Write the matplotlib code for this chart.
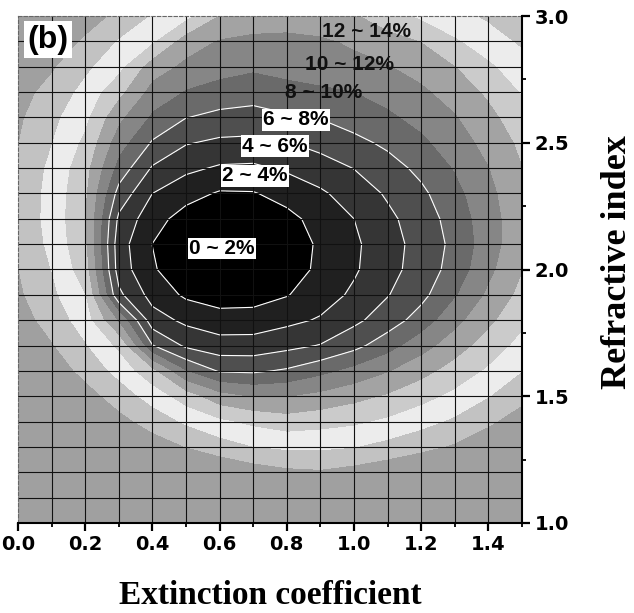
import numpy as np
import matplotlib
matplotlib.use("Agg")
import matplotlib.pyplot as plt

# ---- data ----
k_values = [0.0, 0.1, 0.2, 0.3, 0.4, 0.5, 0.6, 0.7, 0.8, 0.9, 1.0, 1.1, 1.2, 1.3, 1.4, 1.5]
n_values = [1.0, 1.1, 1.2, 1.3, 1.4, 1.5, 1.6, 1.7, 1.8, 1.9, 2.0,
            2.1, 2.2, 2.3, 2.4, 2.5, 2.6, 2.7, 2.8, 2.9, 3.0]
# reflectance (%) ; one row per refractive index value (bottom -> top)
reflectance = [
    [27.5, 26.8, 26.1, 25.4, 24.8, 24.2, 23.6, 23.1, 22.8, 22.7, 23.0, 23.6, 24.2, 24.7, 25.3, 25.9],
    [26.5, 25.7, 25.0, 24.3, 23.7, 23.0, 22.4, 21.9, 21.5, 21.4, 21.8, 22.4, 23.0, 23.5, 24.0, 24.7],
    [26.0, 25.2, 24.1, 23.5, 22.9, 22.3, 21.7, 21.0, 20.4, 20.2, 20.7, 21.3, 21.9, 22.4, 23.0, 23.5],
    [25.5, 24.3, 23.2, 22.1, 21.0, 19.9, 18.9, 17.95, 17.6, 17.6, 17.85, 18.6, 19.4, 20.2, 21.25, 22.3],
    [24.5, 23.4, 22.0, 20.6, 19.1, 17.6, 16.3, 15.5, 14.85, 15.2, 15.6, 16.3, 17.25, 18.3, 19.6, 20.9],
    [23.5, 22.3, 20.8, 19.0, 17.1, 14.85, 12.65, 11.75, 11.85, 12.45, 13.3, 14.15, 15.25, 16.45, 17.85, 19.4],
    [22.5, 21.2, 19.3, 17.3, 14.4, 9.95, 7.8, 7.7, 8.25, 9.35, 10.5, 11.8, 13.25, 14.75, 16.25, 17.9],
    [21.9, 20.1, 18.1, 15.5, 8.1, 5.65, 4.85, 4.85, 5.45, 6.1, 7.4, 9.1, 11.1, 13.0, 14.85, 16.6],
    [20.8, 19.2, 16.9, 11.6, 4.9, 3.55, 2.83, 2.9, 3.5, 4.2, 5.55, 7.0, 8.85, 11.3, 13.5, 15.5],
    [20.3, 18.4, 15.95, 6.45, 3.25, 1.67, 1.06, 1.13, 1.89, 3.1, 4.35, 5.9, 7.45, 9.75, 12.3, 14.55],
    [20.0, 17.9, 14.8, 5.1, 2.2, 0.83, 0.22, 0.3, 1.06, 2.4, 3.75, 5.3, 6.9, 8.75, 11.45, 13.85],
    [19.6, 17.45, 14.2, 4.9, 1.98, 0.69, 0.08, 0.16, 0.92, 2.3, 3.65, 5.2, 6.75, 8.5, 11.0, 13.4],
    [19.4, 17.25, 14.0, 5.6, 2.75, 1.22, 0.61, 0.68, 1.45, 2.7, 4.0, 5.55, 7.0, 8.8, 11.1, 13.3],
    [19.4, 17.3, 14.2, 7.3, 4.0, 2.7, 1.8, 1.87, 2.7, 3.7, 4.9, 6.25, 7.6, 9.35, 11.4, 13.5],
    [19.6, 17.5, 14.65, 9.2, 5.8, 4.45, 3.75, 3.65, 4.3, 5.1, 6.05, 7.2, 8.5, 10.1, 11.9, 13.9],
    [20.0, 18.0, 15.5, 10.8, 7.8, 6.15, 5.6, 5.5, 5.9, 6.65, 7.45, 8.4, 9.55, 11.0, 12.6, 14.4],
    [20.3, 18.5, 16.4, 12.4, 9.6, 8.05, 7.5, 7.3, 7.75, 8.1, 8.9, 9.6, 10.6, 11.8, 13.4, 15.1],
    [20.7, 19.3, 17.3, 14.5, 11.2, 9.8, 9.1, 8.8, 9.3, 9.6, 9.95, 10.7, 11.6, 12.8, 14.3, 16.1],
    [21.5, 20.2, 18.4, 16.5, 12.9, 11.5, 10.8, 10.3, 10.65, 11.05, 11.45, 11.85, 12.7, 13.9, 15.6, 17.1],
    [23.0, 21.4, 19.6, 17.8, 16.2, 12.9, 11.8, 11.4, 11.4, 11.7, 12.25, 13.1, 14.0, 15.7, 17.0, 18.3],
    [23.5, 22.0, 21.1, 19.4, 17.8, 16.5, 13.8, 13.3, 13.0, 13.1, 13.7, 15.1, 16.3, 17.3, 18.3, 19.8],
]
levels = [0, 2, 4, 6, 8, 10, 12, 14, 16, 18, 20, 30]
band_colors = ["#000000", "#202020", "#353535", "#4f4f4f", "#6a6a6a", "#868686",
               "#a3a3a3", "#cbcbcb", "#ececec", "#c2c2c2", "#a0a0a0"]

band_labels = ["0 ~ 2%", "2 ~ 4%", "4 ~ 6%", "6 ~ 8%", "8 ~ 10%", "10 ~ 12%", "12 ~ 14%"]
label_k = [0.607, 0.705, 0.765, 0.827, 0.91, 0.988, 1.036]
label_n = [2.083, 2.37, 2.486, 2.59, 2.70, 2.81, 2.94]
label_boxed = [True, True, True, True, False, False, False]

x_ticks = [0.0, 0.2, 0.4, 0.6, 0.8, 1.0, 1.2, 1.4]
y_ticks = [1.0, 1.5, 2.0, 2.5, 3.0]

# ---- figure ----
fig = plt.figure(figsize=(6.34, 6.13), dpi=100)
ax = fig.add_axes([18 / 634, 1 - 523 / 613, 504 / 634, 507 / 613])

K, N = np.meshgrid(k_values, n_values)
Z = np.array(reflectance)
ax.contourf(K, N, Z, levels=levels, colors=band_colors, zorder=1)
ax.contour(K, N, Z, levels=[2, 4, 6, 8], colors="white", linewidths=0.8, zorder=1.5)

ax.set_xlim(0, 1.5)
ax.set_ylim(1.0, 3.0)

# grid every 0.1
for gx in np.arange(0.1, 1.45, 0.1):
    ax.axvline(gx, color="#111111", lw=0.8, zorder=2.5)
for gy in np.arange(1.1, 2.95, 0.1):
    ax.axhline(gy, color="#111111", lw=0.8, zorder=2.5)

# spines
for s in ["left", "top"]:
    ax.spines[s].set_color("#666666")
    ax.spines[s].set_linewidth(0.8)
    ax.spines[s].set_linestyle((0, (3, 2)))
for s in ["right", "bottom"]:
    ax.spines[s].set_color("black")
    ax.spines[s].set_linewidth(1.5)
    ax.spines[s].set_zorder(4)

ax.yaxis.tick_right()
ax.set_xticks(x_ticks)
ax.set_xticklabels([f"{v:.1f}" for v in x_ticks])
ax.set_xticks(np.arange(0.1, 1.55, 0.2), minor=True)
ax.set_yticks(y_ticks)
ax.set_yticklabels([f"{v:.1f}" for v in y_ticks])
ax.set_yticks([1.25, 1.75, 2.25, 2.75], minor=True)
ax.tick_params(which="major", direction="out", length=5.5, width=1.6, labelsize=14, pad=3.5)
ax.tick_params(which="minor", direction="out", length=3, width=1.3)
ax.tick_params(axis="x", which="both", top=False)
ax.tick_params(axis="y", which="both", left=False, right=True)
for lab in ax.get_xticklabels() + ax.get_yticklabels():
    lab.set_fontweight("bold")
    lab.set_fontfamily("DejaVu Sans")

# band labels
for txt, kx, ny, boxed in zip(band_labels, label_k, label_n, label_boxed):
    if boxed:
        ax.text(kx, ny, txt, ha="center", va="center", fontsize=15, fontweight="bold",
                family="Liberation Sans", zorder=5,
                bbox=dict(facecolor="white", edgecolor="none", pad=1.0))
    else:
        ax.text(kx, ny, txt, ha="center", va="center", fontsize=15, fontweight="bold",
                family="Liberation Sans", color="#111111", zorder=2)

# panel label
ax.text(0.06, 0.953, "(b)", transform=ax.transAxes, ha="center", va="center",
        fontsize=23, fontweight="bold", family="Liberation Sans", zorder=5,
        bbox=dict(facecolor="white", edgecolor="none", pad=2.5))

# axis titles
fig.text(270 / 634, 1 - 604 / 613, "Extinction coefficient", ha="center", va="baseline",
         fontsize=24, fontweight="bold", family="Liberation Serif")
fig.text(617 / 634, 1 - 262 / 613, "Refractive index", ha="center", va="center",
         rotation=90, fontsize=26, fontweight="bold", family="Liberation Serif")

fig.savefig("out.png", dpi=100)
